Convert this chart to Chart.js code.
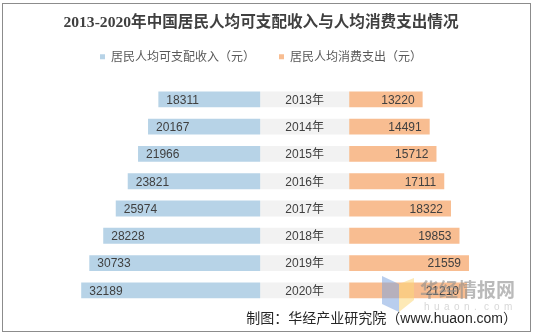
<!DOCTYPE html>
<html>
<head>
<meta charset="utf-8">
<script src="https://cdn.jsdelivr.net/npm/chart.js@4.4.0/dist/chart.umd.min.js"></script>
<style>
  html, body { margin: 0; padding: 0; background: #fff; }
</style>
</head>
<body>
<canvas id="chart" width="536" height="336"></canvas>
<script>
// 2013-2020 per capita income vs spending (butterfly bars)
const years = ['2013年', '2014年', '2015年', '2016年', '2017年', '2018年', '2019年', '2020年'];
const income = [18311, 20167, 21966, 23821, 25974, 28228, 30733, 32189];
const spending = [13220, 14491, 15712, 17111, 18322, 19853, 21559, 21210];
const gap = 16000; // grey band holding the year labels, in data units

const BLUE = '#b7d3e7';
const ORANGE = '#f8bd91';
const GREY = '#f2f2f2';
const TEXT = '#404040';

const barLabels = {
  id: 'barLabels',
  afterDatasetsDraw(chart) {
    const ctx = chart.ctx;
    ctx.save();
    ctx.font = '12px "Liberation Sans", "Noto Sans CJK SC"';
    ctx.fillStyle = TEXT;
    ctx.textBaseline = 'middle';
    chart.getDatasetMeta(0).data.forEach((bar, i) => {
      ctx.textAlign = 'left';
      ctx.fillText(String(income[i]), bar.x + 8, bar.y + 1);
    });
    chart.getDatasetMeta(1).data.forEach((bar, i) => {
      ctx.textAlign = 'center';
      ctx.fillText(years[i], (bar.x + bar.base) / 2, bar.y + 1);
    });
    chart.getDatasetMeta(2).data.forEach((bar, i) => {
      ctx.textAlign = 'right';
      ctx.fillText(String(spending[i]), bar.x - 8, bar.y + 1);
    });
    ctx.restore();
  },
  afterDraw(chart) {
    const ctx = chart.ctx;
    ctx.save();
    // watermark
    ctx.globalAlpha = 0.55;
    ctx.fillStyle = '#7fa6e0';
    ctx.beginPath();
    ctx.moveTo(382, 276); ctx.lineTo(399, 284); ctx.lineTo(399, 312); ctx.lineTo(382, 304);
    ctx.fill();
    ctx.fillStyle = '#fbd77a';
    ctx.beginPath();
    ctx.moveTo(399, 284); ctx.lineTo(414, 278); ctx.lineTo(414, 300); ctx.lineTo(399, 312);
    ctx.fill();
    ctx.globalAlpha = 0.6;
    ctx.fillStyle = '#8c8c8c';
    ctx.font = 'bold 19px "Noto Sans CJK SC"';
    ctx.textAlign = 'left';
    ctx.textBaseline = 'middle';
    ctx.fillText('华经情报网', 420, 290);
    ctx.globalAlpha = 0.35;
    ctx.font = '10px "Liberation Sans"';
    const w = 'huaon.com'.split('');
    w.forEach((ch, i) => ctx.fillText(ch, 424 + i * 10, 307));
    ctx.globalAlpha = 1;
    // source note
    ctx.fillStyle = '#262626';
    ctx.font = '14px "Liberation Sans", "Noto Sans CJK SC"';
    ctx.textAlign = 'right';
    ctx.fillText('制图：华经产业研究院（www.huaon.com）', 517, 319);
    // frame
    ctx.strokeStyle = '#8c8c8c';
    ctx.lineWidth = 1;
    ctx.strokeRect(2.5, 3.5, 528, 328);
    ctx.restore();
  }
};

const whiteBg = {
  id: 'whiteBg',
  beforeDraw(chart) {
    const ctx = chart.ctx;
    ctx.save();
    ctx.fillStyle = '#fff';
    ctx.fillRect(0, 0, chart.width, chart.height);
    ctx.restore();
  }
};

new Chart(document.getElementById('chart'), {
  type: 'bar',
  data: {
    labels: years,
    datasets: [
      { label: '居民人均可支配收入（元）', data: income.map(v => -v), backgroundColor: BLUE },
      { label: '', data: years.map(() => gap), backgroundColor: GREY },
      { label: '居民人均消费支出（元）', data: spending, backgroundColor: ORANGE }
    ]
  },
  options: {
    indexAxis: 'y',
    responsive: false,
    animation: false,
    layout: { padding: { left: 40, right: 54, top: 14, bottom: 32 } },
    datasets: { bar: { categoryPercentage: 1, barPercentage: 0.58 } },
    scales: {
      x: {
        stacked: true, position: 'top', min: -39600, max: 39900,
        grid: { display: false }, border: { display: false }, ticks: { display: false },
        afterFit: s => { s.height = 13; }
      },
      y: { stacked: true, display: false }
    },
    plugins: {
      tooltip: { enabled: false },
      title: {
        display: true,
        text: '2013-2020年中国居民人均可支配收入与人均消费支出情况',
        color: TEXT,
        font: { size: 15.6, weight: 'bold', family: '"Liberation Serif", "Noto Sans CJK SC"' },
        padding: { top: 0, bottom: -6 }
      },
      legend: {
        labels: {
          color: '#595959',
          font: { size: 12, family: '"Noto Sans CJK SC"' },
          boxWidth: 5,
          boxHeight: 5,
          padding: 24,
          filter: item => item.datasetIndex !== 1
        }
      }
    }
  },
  plugins: [whiteBg, barLabels]
});
</script>
</body>
</html>
